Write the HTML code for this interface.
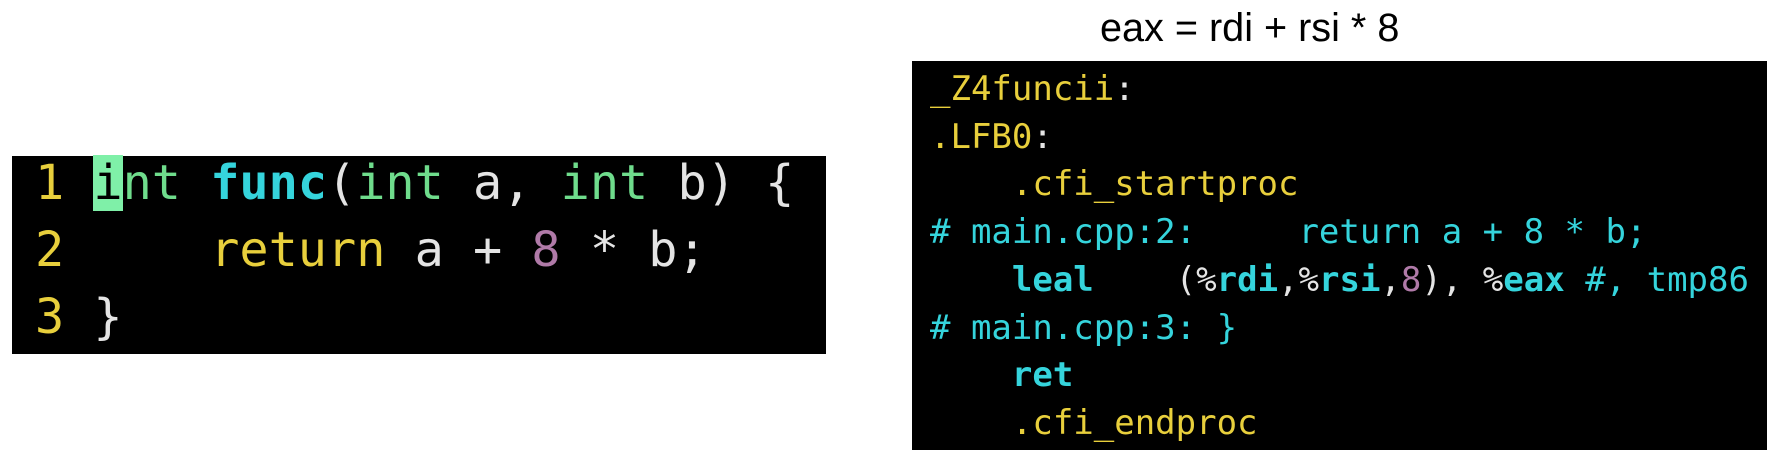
<!DOCTYPE html>
<html><head><meta charset="utf-8"><style>
body{margin:0;width:1767px;height:450px;background:#fff;position:relative;overflow:hidden}
.box{position:absolute;background:#000}
.code{position:absolute;font-family:"DejaVu Sans Mono","Liberation Mono",monospace;white-space:pre;margin:0}
.y{color:#e8cf3c}.g{color:#6fdc8c}.c{color:#35d4dc}.w{color:#e4e4e4}.p{color:#b07aa8}
.b{font-weight:bold}
.cur{background:#7ff0a8;color:#000}
#title{position:absolute;left:1100px;top:6px;font-family:"Liberation Sans",sans-serif;font-size:40px;color:#000;transform:scaleX(0.99);transform-origin:left}
</style></head><body>
<div class="box" style="left:12px;top:156px;width:814px;height:198px"></div>
<div class="code" style="left:35px;top:150px;font-size:48.5px;line-height:67px"><span class="y">1</span> <span class="cur">i</span><span class="g">nt</span> <span class="c b">func</span><span class="w">(</span><span class="g">int</span> <span class="w">a,</span> <span class="g">int</span> <span class="w">b) {</span>
<span class="y">2</span>     <span class="y">return</span> <span class="w">a +</span> <span class="p">8</span> <span class="w">* b;</span>
<span class="y">3</span> <span class="w">}</span></div>

<div id="title">eax = rdi + rsi * 8</div>
<div class="box" style="left:912px;top:61px;width:855px;height:389px"></div>
<div class="code" style="left:930px;top:66px;font-size:34px;line-height:47.7px"><span class="y">_Z4funcii</span><span class="w">:</span>
<span class="y">.LFB0</span><span class="w">:</span>
    <span class="y">.cfi_startproc</span>
<span class="c"># main.cpp:2:     return a + 8 * b;</span>
    <span class="c b">leal</span>    <span class="w">(%</span><span class="c b">rdi</span><span class="w">,%</span><span class="c b">rsi</span><span class="w">,</span><span class="p">8</span><span class="w">), %</span><span class="c b">eax</span> <span class="c">#, tmp86</span>
<span class="c"># main.cpp:3: }</span>
    <span class="c b">ret</span>
    <span class="y">.cfi_endproc</span></div>
</body></html>
